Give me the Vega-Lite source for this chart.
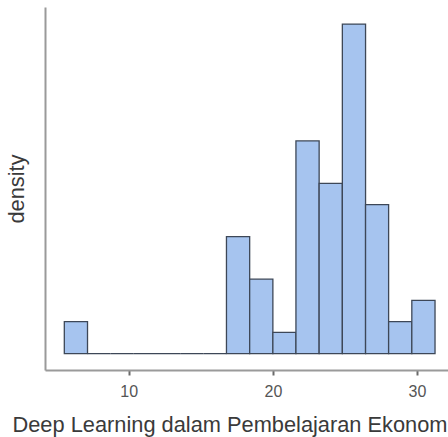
{
  "$schema": "https://vega.github.io/schema/vega-lite/v6.json",
  "width": 403,
  "height": 363,
  "autosize": {"type": "none"},
  "padding": {"left": 45, "top": 7, "right": 0, "bottom": 67},
  "background": "white",
  "config": {"view": {"stroke": null}},
  "data": {
    "values": [
      {"start": 5.53, "end": 7.14, "density": 0.01666},
      {"start": 7.14, "end": 8.75, "density": 0},
      {"start": 8.75, "end": 10.35, "density": 0},
      {"start": 10.35, "end": 11.96, "density": 0},
      {"start": 11.96, "end": 13.57, "density": 0},
      {"start": 13.57, "end": 15.17, "density": 0},
      {"start": 15.17, "end": 16.78, "density": 0},
      {"start": 16.78, "end": 18.39, "density": 0.0611},
      {"start": 18.39, "end": 20.0, "density": 0.03888},
      {"start": 20.0, "end": 21.6, "density": 0.01111},
      {"start": 21.6, "end": 23.21, "density": 0.1111},
      {"start": 23.21, "end": 24.82, "density": 0.0889},
      {"start": 24.82, "end": 26.43, "density": 0.1722},
      {"start": 26.43, "end": 28.03, "density": 0.0778},
      {"start": 28.03, "end": 29.64, "density": 0.01666},
      {"start": 29.64, "end": 31.25, "density": 0.02777}
    ]
  },
  "mark": {"type": "bar", "fill": "#a6c4ef", "stroke": "#3d4757", "strokeWidth": 1.3, "clip": true},
  "encoding": {
    "x": {
      "field": "start",
      "type": "quantitative",
      "scale": {"domain": [4.19, 32.15], "nice": false, "zero": false},
      "axis": {
        "values": [10, 20, 30],
        "grid": false,
        "domainColor": "#9a9a9a",
        "domainWidth": 2,
        "tickColor": "#6a6a6a",
        "tickWidth": 2,
        "tickSize": 5,
        "labelFont": "Liberation Sans",
        "labelFontSize": 16,
        "labelColor": "#555555",
        "labelPadding": 8,
        "title": "Deep Learning dalam Pembelajaran Ekonomi",
        "titleFont": "Liberation Sans",
        "titleFontSize": 21.8,
        "titleFontWeight": "normal",
        "titleColor": "#3a3a3a",
        "titleAnchor": "start",
        "titleAlign": "left",
        "titleX": -33,
        "titlePadding": 15
      }
    },
    "x2": {"field": "end"},
    "y": {
      "field": "density",
      "type": "quantitative",
      "scale": {"domain": [-0.0086, 0.1811], "nice": false, "zero": false},
      "axis": {
        "grid": false,
        "ticks": false,
        "labels": false,
        "domainColor": "#9a9a9a",
        "domainWidth": 2,
        "title": "density",
        "titleFont": "Liberation Sans",
        "titleFontSize": 21.8,
        "titleFontWeight": "normal",
        "titleColor": "#3a3a3a",
        "titlePadding": 17
      }
    },
    "y2": {"datum": 0}
  }
}
